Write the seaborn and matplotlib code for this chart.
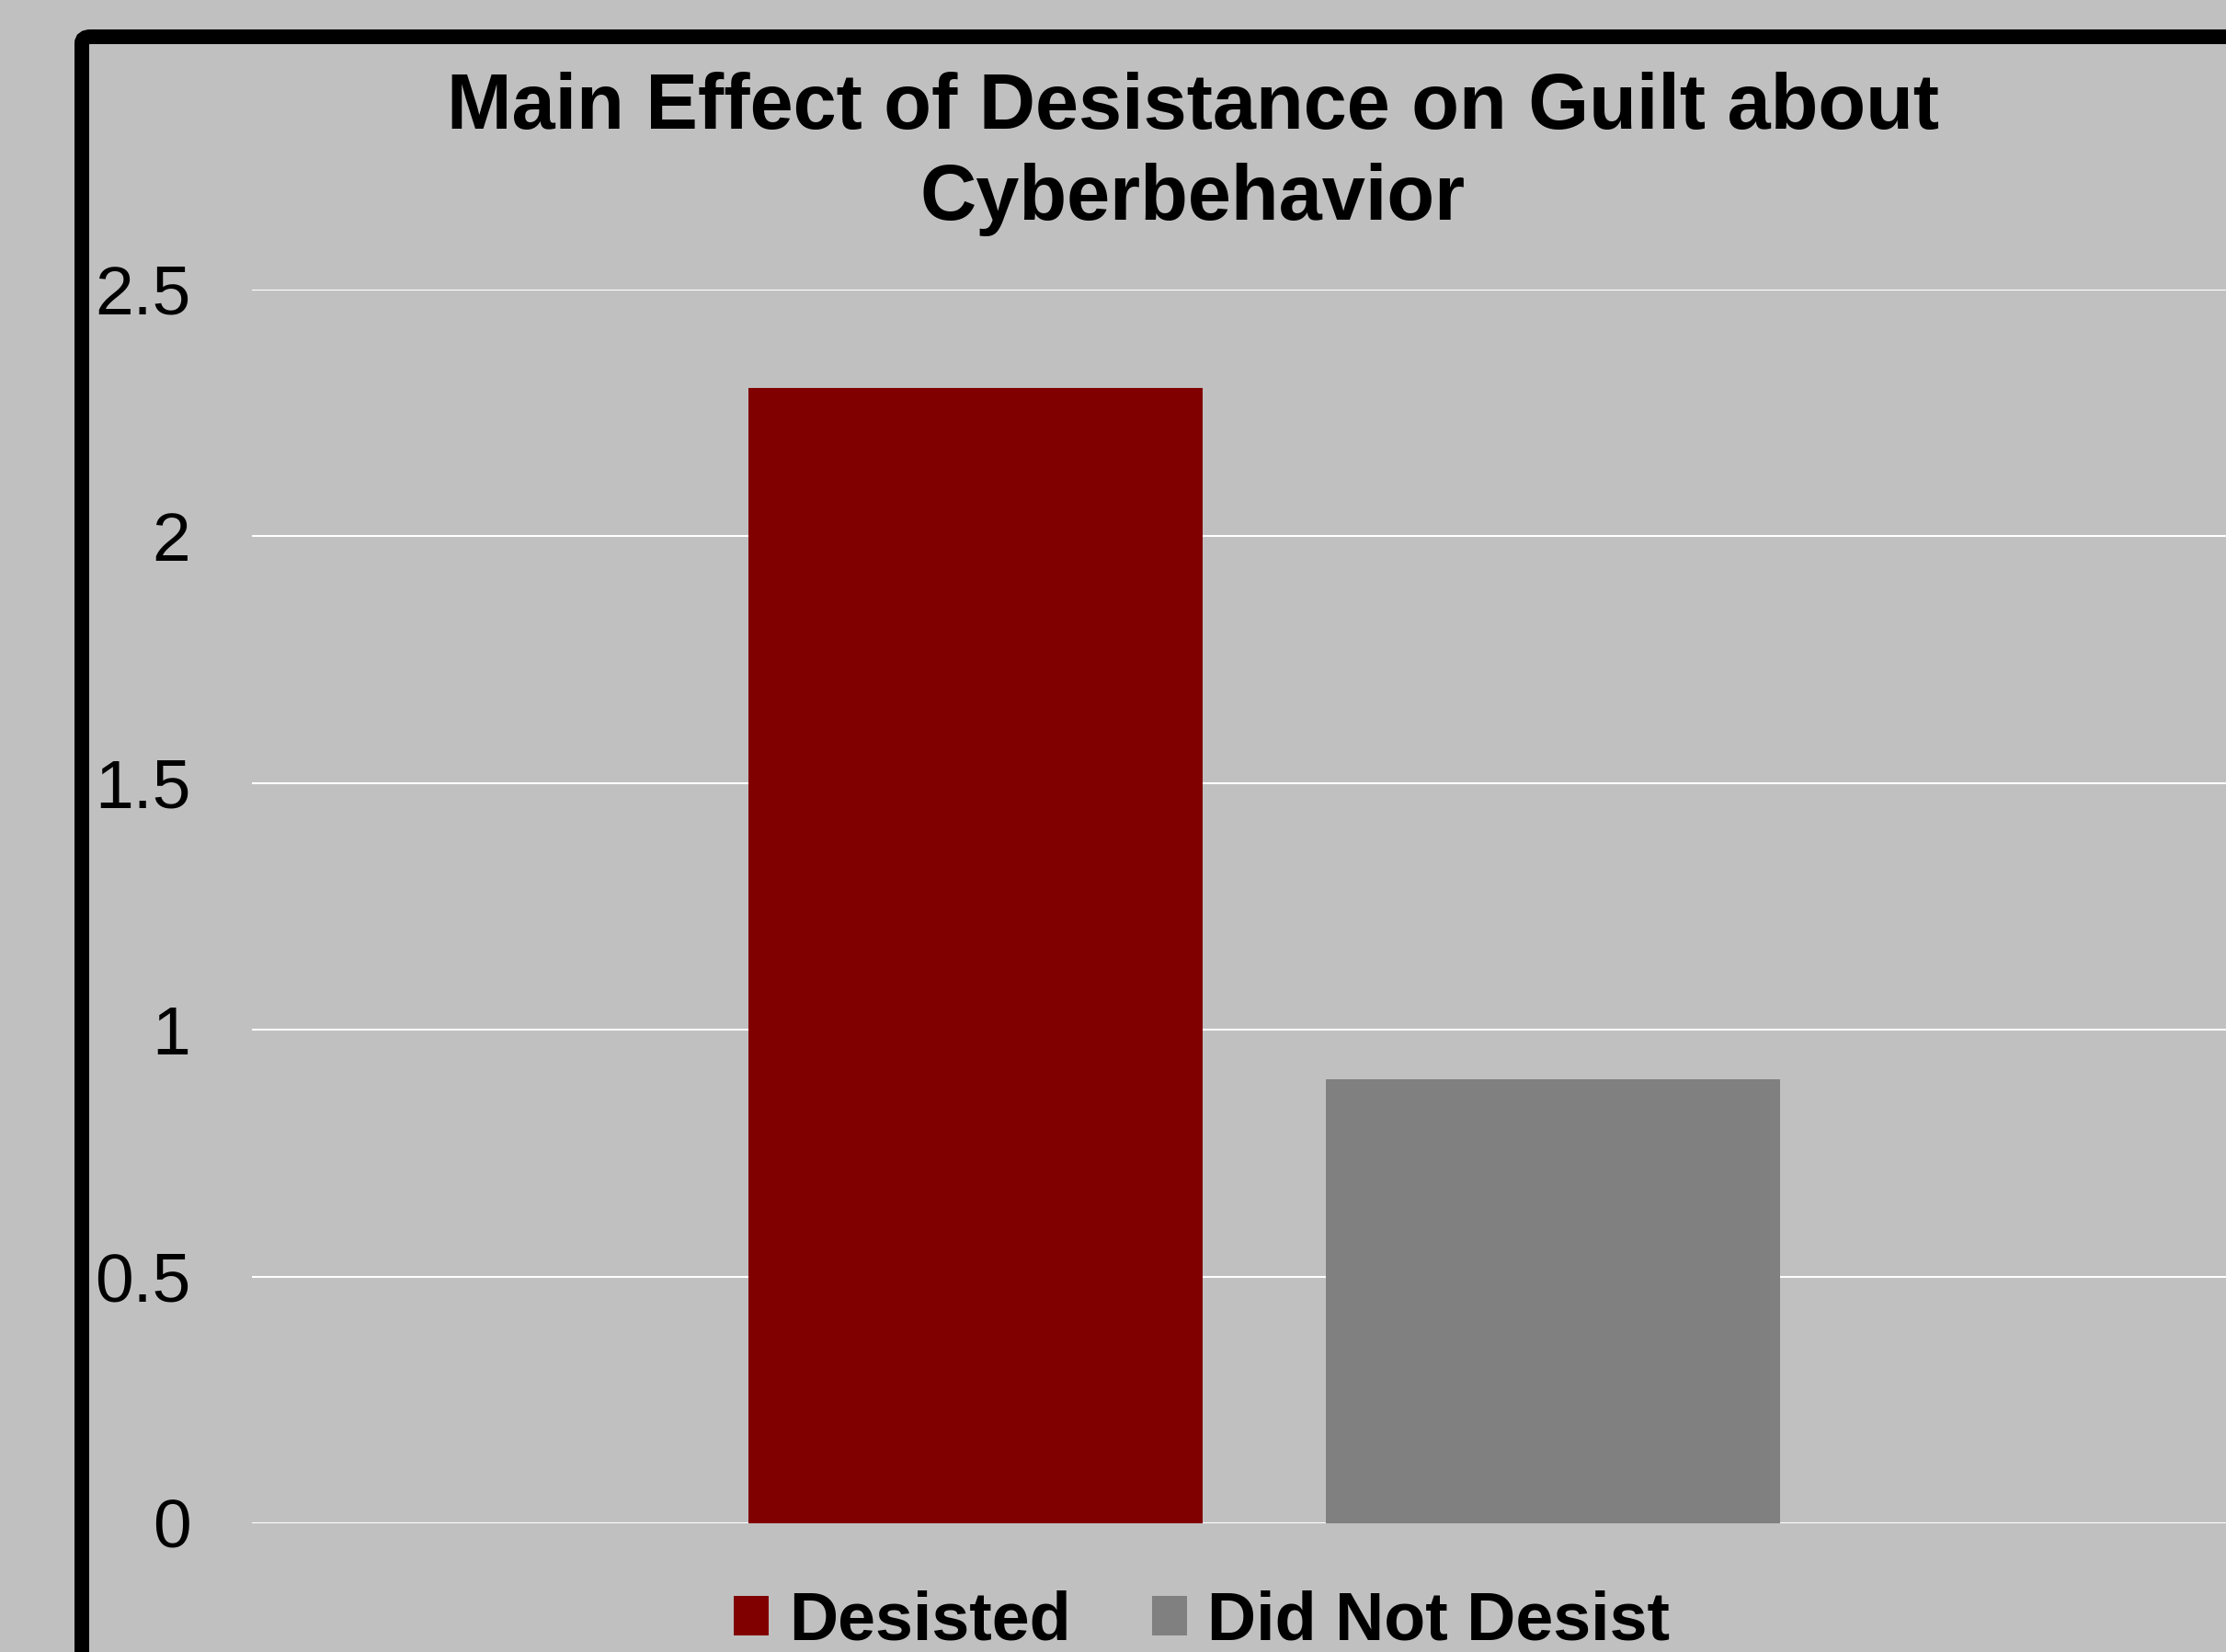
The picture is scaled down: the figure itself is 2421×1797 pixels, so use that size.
import matplotlib
matplotlib.use("Agg")
import matplotlib.pyplot as plt
import matplotlib.patches as mpatches
import seaborn as sns
import pandas as pd

# Data
groups = ["Desisted", "Did Not Desist"]
guilt = [2.30, 0.90]
colors = ["#800000", "#808080"]
yticks = [0, 0.5, 1, 1.5, 2, 2.5]
ytick_labels = ["0", "0.5", "1", "1.5", "2", "2.5"]
title = "Main Effect of Desistance on Guilt about\nCyberbehavior"

df = pd.DataFrame({"group": groups, "guilt": guilt})

sns.set_style("white")
plt.rcParams["font.family"] = ["Liberation Sans", "DejaVu Sans"]
plt.rcParams["text.color"] = "black"
plt.rcParams["ytick.color"] = "black"

W, H = 2421, 1797
fig = plt.figure(figsize=(W / 100, H / 100), dpi=100)
fig.patch.set_facecolor("#C0C0C0")

# plot area
ax = fig.add_axes([274 / W, 1 - 1657 / H, 1 - 274 / W, (1657 - 315) / H])
ax.set_facecolor("#C0C0C0")
sns.barplot(data=df, x="group", y="guilt", hue="group", palette=colors,
            width=0.787, saturation=1, linewidth=0, legend=True, ax=ax, zorder=3)

ax.set_ylim(0, 2.5)
ax.set_xlim(-1.253, 2.166)
ax.set_yticks(yticks)
ax.set_yticklabels(ytick_labels, fontsize=54, color="black")
ax.tick_params(axis="y", length=0, pad=48)
ax.set_xticks([])
ax.set_xlabel("")
ax.set_ylabel("")
ax.yaxis.grid(True, color="white", linewidth=1.5, zorder=0)
ax.set_axisbelow(True)
for s in ax.spines.values():
    s.set_visible(False)

# legend at bottom
handles, labels = ax.get_legend_handles_labels()
ax.get_legend().remove()
fig.legend(handles, labels, loc="lower center", bbox_to_anchor=(1307 / W, -0.001),
           ncol=2, frameon=False, prop={"weight": "bold", "size": 53},
           labelcolor="black",
           handlelength=0.52, handleheight=0.52, handletextpad=0.3,
           columnspacing=1.2, borderpad=0, borderaxespad=0)

# title
fig.text(1297 / W, 1 - 239 / H, title, ha="center", va="baseline",
         fontsize=61, fontweight="bold", linespacing=1.3, color="black")

# thick chart border running off the image
border = mpatches.FancyBboxPatch((89 / W, -0.2), 1.3, 0.2 + 1 - 40 / H,
                                 boxstyle="round,pad=0,rounding_size=0.004",
                                 transform=fig.transFigure, fill=False,
                                 edgecolor="black", linewidth=11.5, clip_on=False)
fig.patches.append(border)

fig.savefig("out.png", dpi=100, facecolor=fig.get_facecolor())
